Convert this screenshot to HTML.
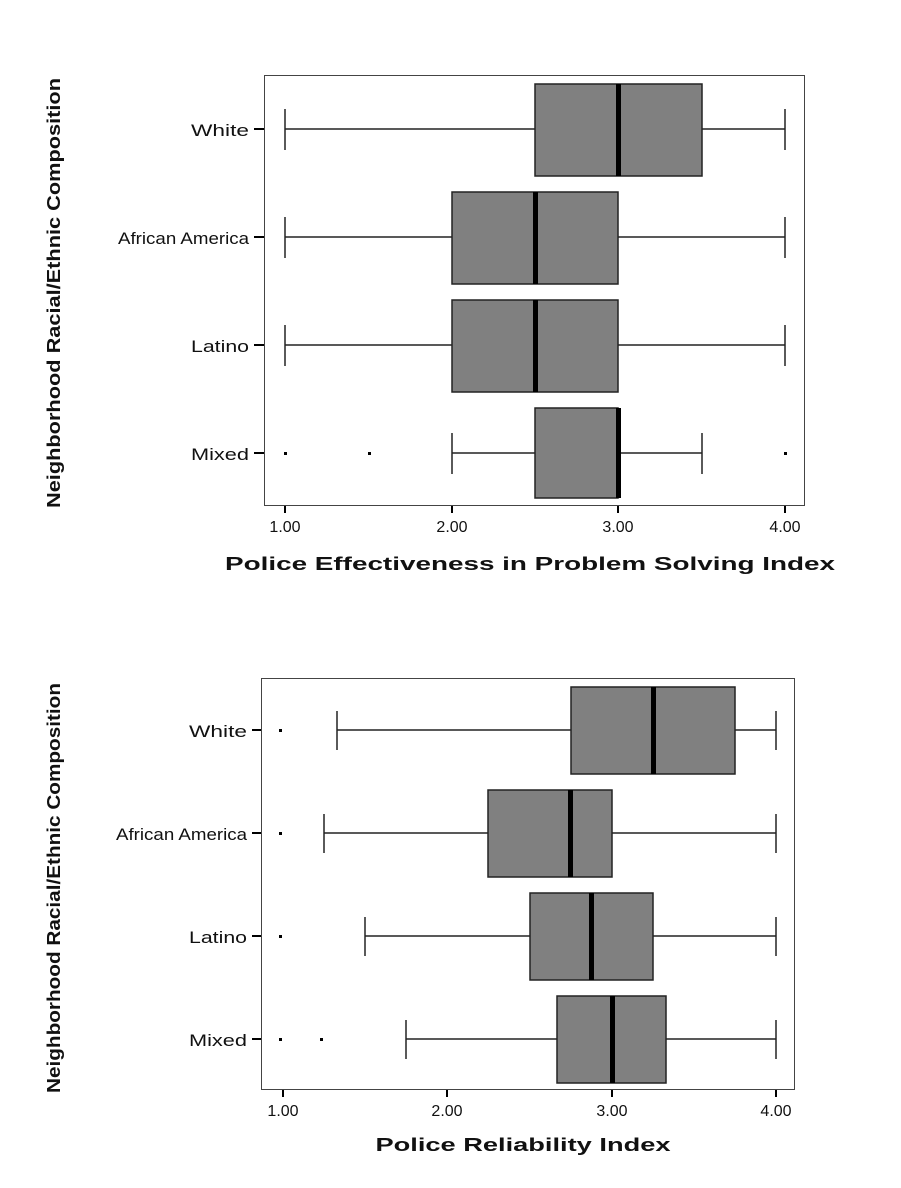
<!DOCTYPE html>
<html><head><style>body{margin:0;background:#fff}svg{display:block}</style></head>
<body>
<svg width="901" height="1188" viewBox="0 0 901 1188" xmlns="http://www.w3.org/2000/svg" font-family="Liberation Sans, sans-serif">
<rect width="901" height="1188" fill="#fff"/>
<!-- TOP CHART -->
<g>
<rect x="264.5" y="75.5" width="540" height="430" fill="none" stroke="#444" stroke-width="1"/>
<g font-size="17" fill="#111" text-anchor="end">
<text x="249" y="136" textLength="58" lengthAdjust="spacingAndGlyphs">White</text>
<text x="249" y="244" textLength="131" lengthAdjust="spacingAndGlyphs">African America</text>
<text x="249" y="352" textLength="58" lengthAdjust="spacingAndGlyphs">Latino</text>
<text x="249" y="460" textLength="58" lengthAdjust="spacingAndGlyphs">Mixed</text>
</g>
<g stroke="#000" stroke-width="2">
<line x1="254" y1="129" x2="264" y2="129"/><line x1="254" y1="237" x2="264" y2="237"/>
<line x1="254" y1="345" x2="264" y2="345"/><line x1="254" y1="453" x2="264" y2="453"/>
<line x1="285" y1="506" x2="285" y2="513"/><line x1="452" y1="506" x2="452" y2="513"/>
<line x1="618" y1="506" x2="618" y2="513"/><line x1="785" y1="506" x2="785" y2="513"/>
</g>
<g font-size="16" fill="#111" text-anchor="middle">
<text x="285" y="532">1.00</text><text x="452" y="532">2.00</text><text x="618" y="532">3.00</text><text x="785" y="532">4.00</text>
</g>
<g stroke="#222" stroke-width="1.5" fill="#808080">
<line x1="285" y1="129" x2="535" y2="129"/><line x1="702" y1="129" x2="785" y2="129"/>
<line x1="285" y1="109" x2="285" y2="150"/><line x1="785" y1="109" x2="785" y2="150"/>
<rect x="535" y="84" width="167" height="92"/>
<line x1="285" y1="237" x2="452" y2="237"/><line x1="618" y1="237" x2="785" y2="237"/>
<line x1="285" y1="217" x2="285" y2="258"/><line x1="785" y1="217" x2="785" y2="258"/>
<rect x="452" y="192" width="166" height="92"/>
<line x1="285" y1="345" x2="452" y2="345"/><line x1="618" y1="345" x2="785" y2="345"/>
<line x1="285" y1="325" x2="285" y2="366"/><line x1="785" y1="325" x2="785" y2="366"/>
<rect x="452" y="300" width="166" height="92"/>
<line x1="452" y1="453" x2="535" y2="453"/><line x1="618" y1="453" x2="702" y2="453"/>
<line x1="452" y1="433" x2="452" y2="474"/><line x1="702" y1="433" x2="702" y2="474"/>
<rect x="535" y="408" width="83" height="90"/>
</g>
<g fill="#000">
<rect x="616" y="84" width="5" height="92"/>
<rect x="533" y="192" width="5" height="92"/>
<rect x="533" y="300" width="5" height="92"/>
<rect x="616" y="408" width="5" height="90"/>
<rect x="284" y="452" width="3" height="3"/><rect x="368" y="452" width="3" height="3"/><rect x="784" y="452" width="3" height="3"/>
</g>
<text x="530" y="570" font-size="18" font-weight="bold" text-anchor="middle" textLength="610" lengthAdjust="spacingAndGlyphs" fill="#111">Police Effectiveness in Problem Solving Index</text>
<text transform="translate(60,293) rotate(-90)" font-size="18" font-weight="bold" text-anchor="middle" textLength="430" lengthAdjust="spacingAndGlyphs" fill="#111">Neighborhood Racial/Ethnic Composition</text>
</g>
<!-- BOTTOM CHART -->
<g>
<rect x="261.5" y="678.5" width="533" height="411" fill="none" stroke="#444" stroke-width="1"/>
<g font-size="17" fill="#111" text-anchor="end">
<text x="247" y="737" textLength="58" lengthAdjust="spacingAndGlyphs">White</text>
<text x="247" y="840" textLength="131" lengthAdjust="spacingAndGlyphs">African America</text>
<text x="247" y="943" textLength="58" lengthAdjust="spacingAndGlyphs">Latino</text>
<text x="247" y="1046" textLength="58" lengthAdjust="spacingAndGlyphs">Mixed</text>
</g>
<g stroke="#000" stroke-width="2">
<line x1="252" y1="730" x2="261" y2="730"/><line x1="252" y1="833" x2="261" y2="833"/>
<line x1="252" y1="936" x2="261" y2="936"/><line x1="252" y1="1039" x2="261" y2="1039"/>
<line x1="283" y1="1090" x2="283" y2="1097"/><line x1="447" y1="1090" x2="447" y2="1097"/>
<line x1="612" y1="1090" x2="612" y2="1097"/><line x1="776" y1="1090" x2="776" y2="1097"/>
</g>
<g font-size="16" fill="#111" text-anchor="middle">
<text x="283" y="1116">1.00</text><text x="447" y="1116">2.00</text><text x="612" y="1116">3.00</text><text x="776" y="1116">4.00</text>
</g>
<g stroke="#222" stroke-width="1.5" fill="#808080">
<line x1="337" y1="730" x2="571" y2="730"/><line x1="735" y1="730" x2="776" y2="730"/>
<line x1="337" y1="711" x2="337" y2="750"/><line x1="776" y1="711" x2="776" y2="750"/>
<rect x="571" y="687" width="164" height="87"/>
<line x1="324" y1="833" x2="488" y2="833"/><line x1="612" y1="833" x2="776" y2="833"/>
<line x1="324" y1="814" x2="324" y2="853"/><line x1="776" y1="814" x2="776" y2="853"/>
<rect x="488" y="790" width="124" height="87"/>
<line x1="365" y1="936" x2="530" y2="936"/><line x1="653" y1="936" x2="776" y2="936"/>
<line x1="365" y1="917" x2="365" y2="956"/><line x1="776" y1="917" x2="776" y2="956"/>
<rect x="530" y="893" width="123" height="87"/>
<line x1="406" y1="1039" x2="557" y2="1039"/><line x1="666" y1="1039" x2="776" y2="1039"/>
<line x1="406" y1="1020" x2="406" y2="1059"/><line x1="776" y1="1020" x2="776" y2="1059"/>
<rect x="557" y="996" width="109" height="87"/>
</g>
<g fill="#000">
<rect x="651" y="687" width="5" height="87"/>
<rect x="568" y="790" width="5" height="87"/>
<rect x="589" y="893" width="5" height="87"/>
<rect x="610" y="996" width="5" height="87"/>
<rect x="279" y="729" width="3" height="3"/><rect x="279" y="832" width="3" height="3"/>
<rect x="279" y="935" width="3" height="3"/><rect x="279" y="1038" width="3" height="3"/><rect x="320" y="1038" width="3" height="3"/>
</g>
<text x="523" y="1151" font-size="18" font-weight="bold" text-anchor="middle" textLength="295" lengthAdjust="spacingAndGlyphs" fill="#111">Police Reliability Index</text>
<text transform="translate(60,888) rotate(-90)" font-size="18" font-weight="bold" text-anchor="middle" textLength="410" lengthAdjust="spacingAndGlyphs" fill="#111">Neighborhood Racial/Ethnic Composition</text>
</g>
</svg>
</body></html>
